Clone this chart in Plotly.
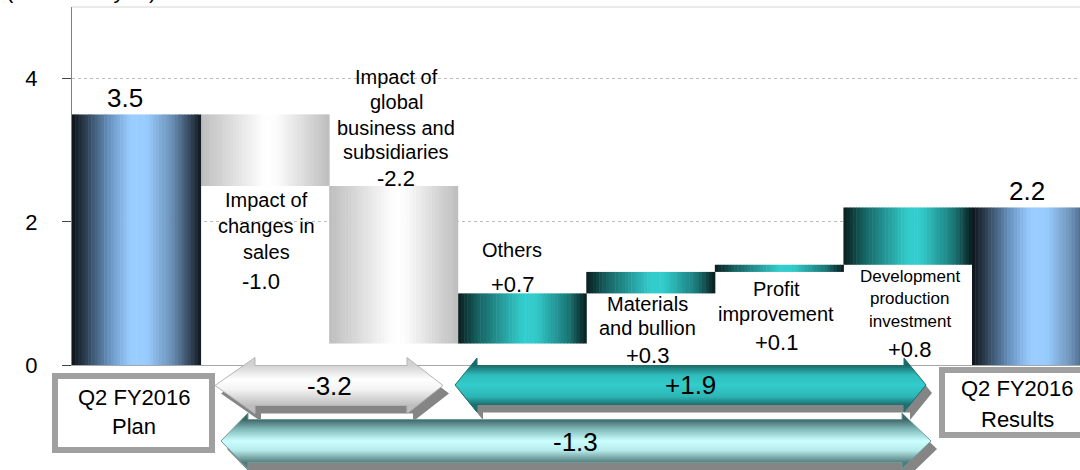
import plotly.graph_objects as go

# ---------------- data ----------------
categories = ["Q2 FY2016 Plan", "Impact of changes in sales",
              "Impact of global business and subsidiaries", "Others",
              "Materials and bullion", "Profit improvement",
              "Development production investment", "Q2 FY2016 Results"]
label_lines = [["Q2 FY2016", "Plan"],
               ["Impact of", "changes in", "sales"],
               ["Impact of", "global", "business and", "subsidiaries"],
               ["Others"],
               ["Materials", "and bullion"],
               ["Profit", "improvement"],
               ["Development", "production", "investment"],
               ["Q2 FY2016", "Results"]]
values = [3.5, -1.0, -2.2, 0.7, 0.3, 0.1, 0.8, 2.2]
measures = ["total", "relative", "relative", "relative",
            "relative", "relative", "relative", "total"]
y_ticks = [0, 2, 4]
unit_label = "(Billions of yen)"

# ---------------- geometry / style ----------------
W, H = 1080, 470
PL, PR, PT, PB = 72, 1080, 7, 365          # plot area in pixels
PITCH = 128.57                             # px per category
YMAX = 5
FONT = "Liberation Sans, Arial, sans-serif"

# waterfall bases / tops
bases, heights = [], []
run = 0.0
for v, m in zip(values, measures):
    if m == "total":
        s, e = 0.0, v
    else:
        s, e = run, run + v
    run = e
    bases.append(min(s, e)); heights.append(abs(e - s))

kind = ["blue" if m == "total" else ("gray" if v < 0 else "teal")
        for v, m in zip(values, measures)]

grad = {
    "blue": [(0, "#0d1218"), (0.1, "#2b3d50"), (0.3, "#6b97c5"), (0.45, "#99ccff"),
             (0.58, "#99ccff"), (0.78, "#6a8fb5"), (0.92, "#33465a"), (1, "#0f161e")],
    "gray": [(0, "#bdbdbd"), (0.5, "#ffffff"), (0.6, "#fbfbfb"), (1, "#bdbdbd")],
    "teal": [(0, "#0a1d1d"), (0.15, "#15605f"), (0.5, "#33cccc"), (0.6, "#33cccc"),
             (0.86, "#1a7777"), (1, "#0a1d1d")],
}


def hex2rgb(h):
    h = h.lstrip("#")
    return [int(h[i:i + 2], 16) for i in (0, 2, 4)]


def interp(stops, t):
    for (t0, c0), (t1, c1) in zip(stops[:-1], stops[1:]):
        if t0 <= t <= t1:
            f = 0 if t1 == t0 else (t - t0) / (t1 - t0)
            a, b = hex2rgb(c0), hex2rgb(c1)
            return "rgb(%d,%d,%d)" % tuple(round(a[k] + (b[k] - a[k]) * f) for k in range(3))
    return stops[-1][1]


fig = go.Figure()

# bars with horizontal gradient (bands)
N = 40
xs = list(range(len(values)))
for k in range(N):
    t = (k + 0.5) / N
    fig.add_trace(go.Bar(
        x=xs, y=heights, base=bases,
        width=[1.0 / N + 0.004] * len(xs), offset=[-0.5 + k / N] * len(xs),
        marker=dict(color=[interp(grad[kd], t) for kd in kind], line=dict(width=0)),
        showlegend=False, hoverinfo="skip", xaxis="x", yaxis="y"))

# ---------------- labels on bars ----------------
annotations = []


def ann(x, y, text, size, dx=0, dy=0, ref="data"):
    d = dict(x=x, y=y, text=text, showarrow=False, xanchor="center", yanchor="middle",
             font=dict(size=size, color="black", family=FONT), xshift=dx, yshift=-dy)
    if ref == "data":
        d.update(xref="x", yref="y")
    else:
        d.update(xref="x2", yref="y2")
    annotations.append(d)


def fmt(v, m):
    return ("%.1f" % v) if m == "total" else ("%+.1f" % v)


# style: anchor, line offsets (px below anchor), value offset, x shifts, font size
style = {
    1: dict(anchor="bottom", lines=[14, 40, 66], val=95, dxl=2, dxv=-4, size=20),
    2: dict(anchor="top", lines=[-109, -84, -58, -34], val=-7, dxl=3, dxv=3, size=20),
    3: dict(anchor="top", lines=[-43], val=-9, dxl=-10, dxv=-10, size=20),
    4: dict(anchor="bottom", lines=[11, 35], val=62, dxl=-3, dxv=-3, size=20),
    5: dict(anchor="bottom", lines=[17, 42], val=71, dxl=-3, dxv=-3, size=20),
    6: dict(anchor="bottom", lines=[12, 34, 57], val=85, dxl=2, dxv=2, size=17),
}
for i, st in style.items():
    a = bases[i] + heights[i] if st["anchor"] == "top" else bases[i]
    for ln, off in zip(label_lines[i], st["lines"]):
        ann(i, a, ln, st["size"], st["dxl"], off)
    ann(i, a, fmt(values[i], measures[i]), 22, st["dxv"], st["val"])

# totals: value above bar
ann(0, bases[0] + heights[0], fmt(values[0], measures[0]), 26, -11, -16)
ann(7, bases[7] + heights[7], fmt(values[7], measures[7]), 26, -9, -16)

# ---------------- boxes under axis (pixel overlay) ----------------
shapes = []
for (x0, y0, x1, y1) in [(55, 376, 212, 450), (942, 370, 1102, 435)]:
    shapes.append(dict(type="rect", xref="x2", yref="y2", x0=x0, y0=y0, x1=x1, y1=y1,
                       line=dict(color="#a0a0a0", width=6), fillcolor="white", layer="above"))
for ln, yy in zip(label_lines[0], [397, 426]):
    ann(134, yy, ln, 22, ref="px")
for ln, yy in zip(label_lines[7], [388, 419]):
    ann(1017, yy, ln, 22, ref="px")

# top border line
shapes.append(dict(type="line", xref="x domain", yref="y domain", x0=0, x1=1, y0=1, y1=1,
                   line=dict(color="#d4d4d4", width=1)))

# ---------------- summary arrows ----------------
def arrow_pts(x0, x1, yc, bh, hh, hl, hr, dx=0, dy=0):
    pts = [(x0, yc), (x0 + hl, yc - hh), (x0 + hl, yc - bh), (x1 - hr, yc - bh),
           (x1 - hr, yc - hh), (x1, yc), (x1 - hr, yc + hh), (x1 - hr, yc + bh),
           (x0 + hl, yc + bh), (x0 + hl, yc + hh), (x0, yc)]
    return [p[0] + dx for p in pts], [p[1] + dy for p in pts]


arrow_defs = [
    # value, geometry, gradient (top->bottom), outline, label position
    (sum(values[1:3]), (215, 443, 385.5, 20, 28, 40, 36),
     [[0, "#d2d2d2"], [0.35, "#ffffff"], [0.6, "#f3f3f3"], [1, "#bdbdbd"]], "#b5b5b5", (329, 386)),
    (sum(values[3:7]), (455, 926, 385, 19.5, 27, 22, 22),
     [[0, "#1b6a6a"], [0.25, "#2fbdbd"], [0.5, "#33cccc"], [0.8, "#2db5b5"], [1, "#1c7070"]],
     "#1f6f6f", (690, 385)),
    (values[7] - values[0], (221, 931, 441, 21.5, 28, 27, 29),
     [[0, "#3f6666"], [0.22, "#7fb8b8"], [0.5, "#ccffff"], [0.72, "#b6eaea"], [1, "#527c7c"]],
     "#6f9a9a", (575, 442)),
]
for val, (x0, x1, yc, bh, hh, hl, hr), cs, lc, (tx, ty) in arrow_defs:
    sx, sy = arrow_pts(x0, x1, yc, bh, hh, hl, hr, 6, 8)
    fig.add_trace(go.Scatter(x=sx, y=sy, mode="lines", fill="toself",
                             fillcolor="#858585", line=dict(width=0, color="#858585"),
                             xaxis="x2", yaxis="y2", showlegend=False, hoverinfo="skip"))
    ax, ay = arrow_pts(x0, x1, yc, bh, hh, hl, hr)
    fig.add_trace(go.Scatter(x=ax, y=ay, mode="lines", fill="toself",
                             fillgradient=dict(type="vertical", colorscale=cs,
                                               start=yc - bh, stop=yc + bh),
                             line=dict(width=1, color=lc),
                             xaxis="x2", yaxis="y2", showlegend=False, hoverinfo="skip"))
    ann(tx, ty, "%+.1f" % val if val > 0 else "%.1f" % val, 26, ref="px")

# unit label (mostly above the top edge, as in the original)
annotations.append(dict(x=4 / W, y=1, xref="paper", yref="paper", text=unit_label,
                        showarrow=False, xanchor="left", yanchor="middle", yshift=10,
                        font=dict(size=22, color="black", family=FONT)))

fig.update_layout(
    width=W, height=H, margin=dict(l=0, r=0, t=0, b=0, autoexpand=False),
    paper_bgcolor="white", plot_bgcolor="rgba(0,0,0,0)",
    barmode="overlay", showlegend=False, template="none",
    font=dict(family=FONT, color="black"),
    xaxis=dict(domain=[PL / W, 1], range=[-0.5, -0.5 + (PR - PL) / PITCH],
               showticklabels=False, ticks="", showgrid=False, zeroline=False,
               showline=True, linecolor="#a6a6a6", linewidth=1, fixedrange=True),
    yaxis=dict(domain=[(H - PB) / H, (H - PT) / H], range=[0, YMAX], tickvals=y_ticks,
               ticktext=[str(t) for t in y_ticks], tickfont=dict(size=22, color="black"),
               ticks="outside", ticklen=9, tickcolor="#444444", tickwidth=1,
               ticklabelstandoff=20,
               showline=True, linecolor="#808080", linewidth=1,
               showgrid=True, gridcolor="#bdbdbd", griddash="dot", gridwidth=1,
               zeroline=False, automargin=False),
    xaxis2=dict(domain=[0, 1], range=[0, W], visible=False, anchor="y2", fixedrange=True),
    yaxis2=dict(domain=[0, 1], range=[H, 0], visible=False, anchor="x2", fixedrange=True),
    annotations=annotations, shapes=shapes,
)

fig.write_html("out.html")
